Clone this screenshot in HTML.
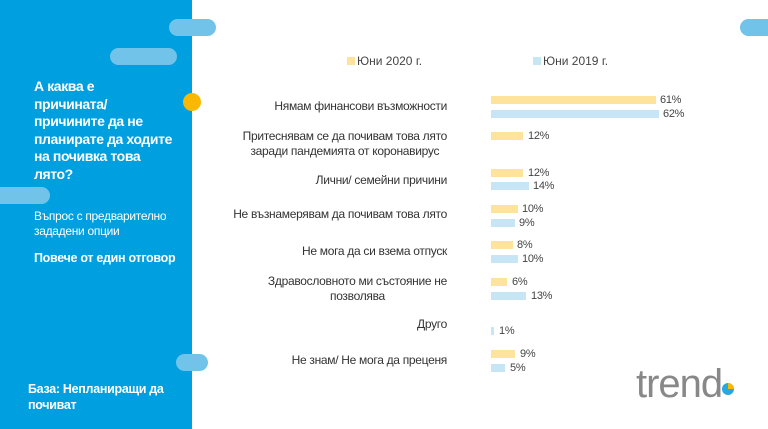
<!DOCTYPE html>
<html><head><meta charset="utf-8"><style>
body{margin:0;width:768px;height:429px;position:relative;overflow:hidden;background:#fff;font-family:"Liberation Sans","Noto Sans CJK SC",sans-serif}
.a{position:absolute}
.pill{position:absolute;background:#72c3ea;border-radius:9px}
.lt{position:absolute;color:#fff;letter-spacing:-0.3px}
.lab{position:absolute;right:321px;text-align:center;font-size:12px;color:#333;letter-spacing:-0.3px;line-height:15px;white-space:nowrap}
.b{position:absolute;left:491px;height:8px}
.y{background:#fde39b}.c{background:#c6e6f6}
.v{position:absolute;font-size:11px;color:#444;letter-spacing:-0.3px;line-height:12px}
</style></head><body>
<div class="a" style="left:0;top:0;width:192px;height:429px;background:#009fdf"></div>
<div class="pill" style="left:169px;top:19px;width:47px;height:17px"></div>
<div class="pill" style="left:110px;top:48px;width:67px;height:17px"></div>
<div class="pill" style="left:-10px;top:187px;width:60px;height:17px"></div>
<div class="pill" style="left:176px;top:354px;width:32px;height:17px"></div>
<div class="pill" style="left:740px;top:19px;width:40px;height:17px"></div>
<div class="a" style="left:183px;top:93px;width:18px;height:18px;border-radius:50%;background:#fbb800"></div>
<div class="lt" style="left:34px;top:78px;font-size:14px;line-height:17.5px;font-weight:bold;letter-spacing:-0.4px">А каква е<br>причината/<br>причините да не<br>планирате да ходите<br>на почивка това<br>лято?</div>
<div class="lt" style="left:34px;top:209px;font-size:12px;line-height:15px">Въпрос с предварително<br>зададени опции</div>
<div class="lt" style="left:34px;top:251px;font-size:12.5px;font-weight:bold">Повече от един отговор</div>
<div class="lt" style="left:28px;top:381px;font-size:12.5px;line-height:16px;font-weight:bold">База: Непланиращи да<br>почиват</div>

<div class="a y" style="left:347px;top:57px;width:8px;height:8px"></div>
<div class="a" style="left:357px;top:54px;font-size:12px;color:#444">Юни 2020 г.</div>
<div class="a c" style="left:533px;top:57px;width:8px;height:8px"></div>
<div class="a" style="left:543px;top:54px;font-size:12px;color:#444">Юни 2019 г.</div>

<div class="lab" style="top:99px">Нямам финансови възможности</div>
<div class="lab" style="top:129px">Притеснявам се да почивам това лято<br>заради пандемията от коронавирус</div>
<div class="lab" style="top:173px">Лични/ семейни причини</div>
<div class="lab" style="top:207px">Не възнамерявам да почивам това лято</div>
<div class="lab" style="top:244px">Не мога да си взема отпуск</div>
<div class="lab" style="top:274px">Здравословното ми състояние не<br>позволява</div>
<div class="lab" style="top:317px">Друго</div>
<div class="lab" style="top:353px">Не знам/ Не мога да преценя</div>

<div class="b y" style="top:96px;width:165px"></div><div class="v" style="left:660px;top:94px">61%</div>
<div class="b c" style="top:110px;width:168px"></div><div class="v" style="left:663px;top:108px">62%</div>
<div class="b y" style="top:132px;width:32px"></div><div class="v" style="left:528px;top:130px">12%</div>
<div class="b y" style="top:169px;width:32px"></div><div class="v" style="left:528px;top:167px">12%</div>
<div class="b c" style="top:182px;width:38px"></div><div class="v" style="left:533px;top:180px">14%</div>
<div class="b y" style="top:205px;width:27px"></div><div class="v" style="left:522px;top:203px">10%</div>
<div class="b c" style="top:219px;width:24px"></div><div class="v" style="left:519px;top:217px">9%</div>
<div class="b y" style="top:241px;width:22px"></div><div class="v" style="left:517px;top:239px">8%</div>
<div class="b c" style="top:255px;width:27px"></div><div class="v" style="left:522px;top:253px">10%</div>
<div class="b y" style="top:278px;width:16px"></div><div class="v" style="left:512px;top:276px">6%</div>
<div class="b c" style="top:292px;width:35px"></div><div class="v" style="left:531px;top:290px">13%</div>
<div class="b c" style="top:327px;width:3px"></div><div class="v" style="left:499px;top:325px">1%</div>
<div class="b y" style="top:350px;width:24px"></div><div class="v" style="left:520px;top:348px">9%</div>
<div class="b c" style="top:364px;width:14px"></div><div class="v" style="left:510px;top:362px">5%</div>

<div class="a" style="left:636px;top:364px;font-size:40px;color:#888;letter-spacing:-1px;line-height:40px">trend</div>
<svg class="a" style="left:722px;top:383px" width="12" height="12" viewBox="0 0 12 12"><circle cx="6" cy="6" r="6" fill="#2aa7e0"/><path d="M6 6V0A6 6 0 0 1 12 6Z" fill="#fbb800"/></svg>
</body></html>
